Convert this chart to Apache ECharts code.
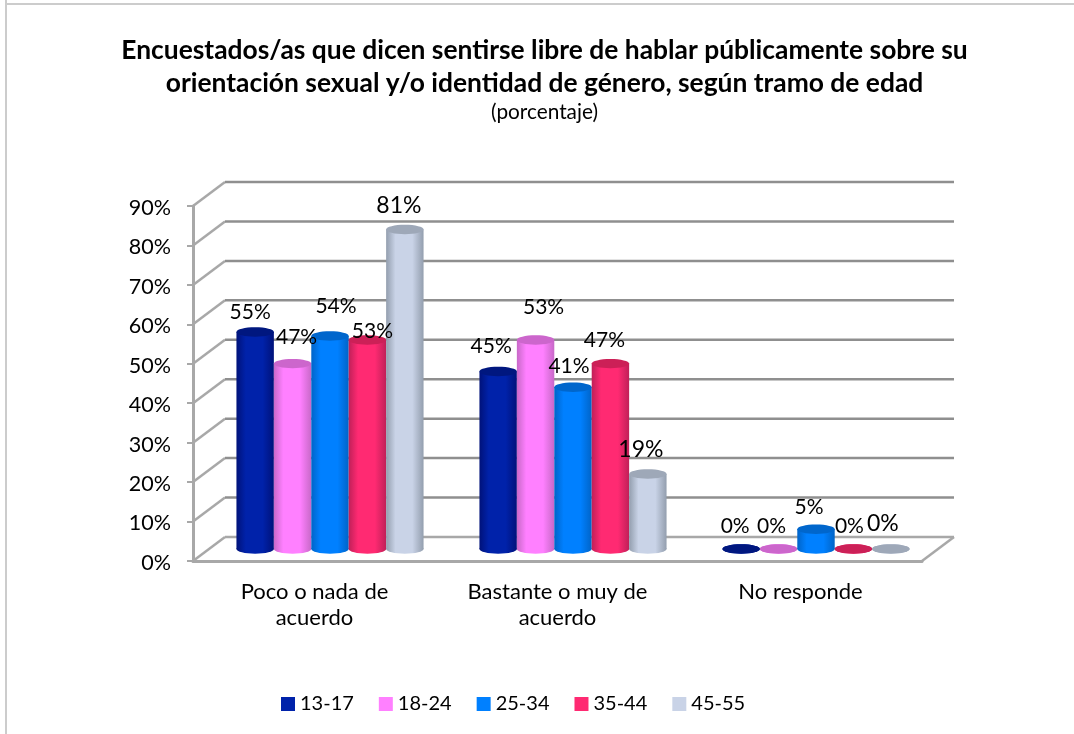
<!DOCTYPE html>
<html>
<head>
<meta charset="utf-8">
<script src="https://cdn.jsdelivr.net/npm/echarts@6/dist/echarts.min.js"></script>
<style>
  html, body { margin: 0; padding: 0; background: #fff; }
  #main { width: 1074px; height: 734px; }
</style>
</head>
<body>
<div id="main"></div>
<script>
var categories = ['Poco o nada de\nacuerdo', 'Bastante o muy de\nacuerdo', 'No responde'];
var yTicks = [0, 10, 20, 30, 40, 50, 60, 70, 80, 90];
var ageGroups = ['13-17', '18-24', '25-34', '35-44', '45-55'];
var age1317 = [55, 45, 0];
var age1824 = [47, 53, 0];
var age2534 = [54, 41, 5];
var age3544 = [53, 47, 0];
var age4555 = [81, 19, 0];
var seriesValues = [age1317, age1824, age2534, age3544, age4555];

// colours per series: middle of the cylinder, its edge, its top
var barColors = [
  ['#0022aa', '#00127a', '#00177f'],
  ['#ff80ff', '#c868c8', '#cc66cc'],
  ['#0080ff', '#0064c8', '#0066cc'],
  ['#ff2a72', '#c02058', '#cc2057'],
  ['#c9d3e7', '#939eae', '#9ea8b8']
];
// labels sit by hand in the original, so dx/dy from the top of each bar
var labelNudge = [
  [[-5, -20], [-7, -25], [-6, -23]],
  [[4, -26], [8, -33], [-7, -23]],
  [[6, -30], [-4, -21], [-7, -22]],
  [[5, -9], [-6, -23], [-4, -23]],
  [[-6, -24], [-7, -24], [-8, -25]]
];

var fontName = 'Lato';
var depthX = 32, depthY = -24;   // front of the floor to the back wall
var barShare = 0.154;            // bar width as part of a category
var capRy = 4.7;
var wallColor = '#8f8f8f', sideColor = '#a8a8a8';

function renderWall(params, api) {
  var p = api.coord([0, api.value(1)]);
  var x0 = params.coordSys.x;
  var x1 = x0 + params.coordSys.width;
  var y = p[1];
  var kids = [
    { type: 'line', shape: { x1: x0, y1: y, x2: x0 + depthX, y2: y + depthY },
      style: { stroke: sideColor, lineWidth: 2.5 } },
    { type: 'line', shape: { x1: x0 + depthX, y1: y + depthY, x2: x1 + depthX, y2: y + depthY },
      style: { stroke: api.value(1) === 0 ? sideColor : wallColor, lineWidth: 2.5 } }
  ];
  if (api.value(1) === 0) {
    kids.push({ type: 'line', shape: { x1: x1, y1: y, x2: x1 + depthX, y2: y + depthY },
      style: { stroke: sideColor, lineWidth: 2.5 } });
  }
  return { type: 'group', children: kids };
}

function makeBarRender(s) {
  return function (params, api) {
    var c = api.value(0), v = api.value(1);
    var top = api.coord([c, v]);
    var base = api.coord([c, 0]);
    var w = api.size([1, 0])[0] * barShare;
    var cx = top[0] + (s - 2) * w + depthX / 2 - 0.5;
    var yTop = top[1] + depthY / 2;
    var yBase = base[1] + depthY / 2;
    var col = barColors[s];
    var grad = {
      type: 'linear', x: 0, y: 0, x2: 1, y2: 0,
      colorStops: [
        { offset: 0, color: col[1] },
        { offset: 0.25, color: col[0] },
        { offset: 0.7, color: col[0] },
        { offset: 1, color: col[1] }
      ]
    };
    var nudge = labelNudge[s][c];
    return {
      type: 'group',
      children: [
        { type: 'ellipse', shape: { cx: cx, cy: yBase, rx: w / 2, ry: capRy }, style: { fill: grad } },
        { type: 'rect', shape: { x: cx - w / 2, y: yTop, width: w, height: yBase - yTop }, style: { fill: grad } },
        { type: 'ellipse', shape: { cx: cx, cy: yTop, rx: w / 2, ry: capRy }, style: { fill: col[2] } },
        { type: 'text', z2: 100, style: {
            x: cx + nudge[0], y: yTop + nudge[1],
            text: v + '%', fill: '#000', fontFamily: fontName,
            fontSize: s === 4 ? 23 : 21,   // last series is a bit bigger in the original
            align: 'center', verticalAlign: 'middle' } }
      ]
    };
  };
}

var series = [{
  type: 'custom',
  name: 'wall',
  silent: true,
  renderItem: renderWall,
  encode: { x: 0, y: 1 },
  data: yTicks.map(function (t) { return [0, t]; })
}];
seriesValues.forEach(function (vals, s) {
  series.push({
    type: 'custom',
    name: ageGroups[s],
    itemStyle: { color: barColors[s][0] },
    renderItem: makeBarRender(s),
    encode: { x: 0, y: 1 },
    data: vals.map(function (v, i) { return [i, v]; })
  });
});

var chart = echarts.init(document.getElementById('main'));
chart.setOption({
  animation: false,
  backgroundColor: '#fff',
  title: {
    left: 539.5,
    top: 29,
    textAlign: 'center',
    text: 'Encuestados/as que dicen sentirse libre de hablar públicamente sobre su\norientación sexual y/o identidad de género, según tramo de edad',
    subtext: '(porcentaje)',
    itemGap: 2,
    textStyle: { fontFamily: fontName, fontSize: 26.4, fontWeight: 'bold', color: '#000', lineHeight: 33 },
    subtextStyle: { fontFamily: fontName, fontSize: 20.8, color: '#000' }
  },
  legend: {
    data: ageGroups,
    left: 276,
    top: 689,
    icon: 'rect',
    itemWidth: 14,
    itemHeight: 14,
    itemGap: 25,
    textStyle: { fontFamily: fontName, fontSize: 20, color: '#000' }
  },
  grid: { left: 193, top: 206, width: 729, height: 355 },
  xAxis: {
    type: 'category',
    data: categories,
    axisTick: { show: false },
    axisLine: { lineStyle: { color: sideColor, width: 3 } },
    axisLabel: { color: '#000', fontFamily: fontName, fontSize: 22, lineHeight: 26, margin: 18, interval: 0 }
  },
  yAxis: {
    type: 'value',
    min: 0,
    max: 90,
    interval: 10,
    splitLine: { show: false },
    axisLine: { show: true, lineStyle: { color: sideColor, width: 3 } },
    axisTick: { show: true, length: 6, lineStyle: { color: sideColor, width: 2 } },
    axisLabel: { color: '#000', fontFamily: fontName, fontSize: 21.5, margin: 22, verticalAlign: 'top', padding: [-9, 0, 0, 0], formatter: '{value}%' }
  },
  graphic: [
    { type: 'line', shape: { x1: 6, y1: 0, x2: 6, y2: 734 }, style: { stroke: '#cccccc', lineWidth: 2 } },
    { type: 'line', shape: { x1: 5, y1: 4, x2: 1074, y2: 4 }, style: { stroke: '#cccccc', lineWidth: 2 } }
  ],
  series: series
});
</script>
</body>
</html>
